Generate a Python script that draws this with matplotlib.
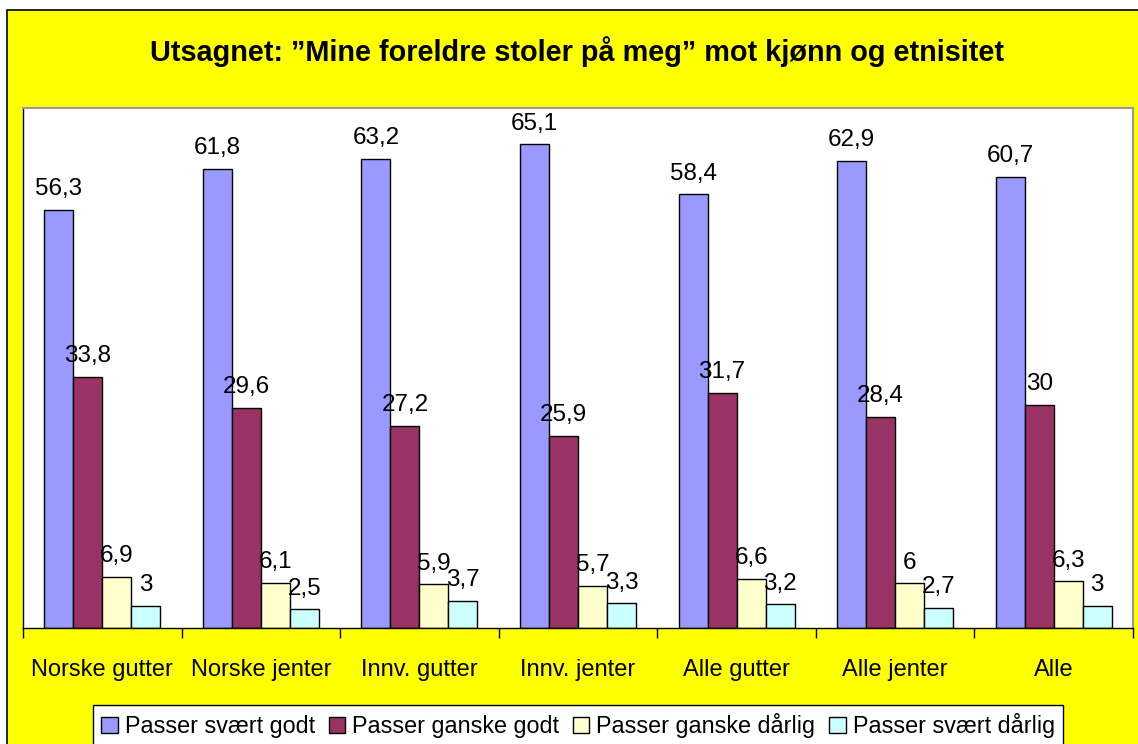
import matplotlib.pyplot as plt
import matplotlib.patches as mpatches
import numpy as np

plt.rcParams['font.family'] = ['Liberation Sans', 'DejaVu Sans']

categories = ['Norske gutter', 'Norske jenter', 'Innv. gutter', 'Innv. jenter',
              'Alle gutter', 'Alle jenter', 'Alle']
series = ['Passer svært godt', 'Passer ganske godt', 'Passer ganske dårlig', 'Passer svært dårlig']
svaert_godt = [56.3, 61.8, 63.2, 65.1, 58.4, 62.9, 60.7]
ganske_godt = [33.8, 29.6, 27.2, 25.9, 31.7, 28.4, 30]
ganske_darlig = [6.9, 6.1, 5.9, 5.7, 6.6, 6, 6.3]
svaert_darlig = [3, 2.5, 3.7, 3.3, 3.2, 2.7, 3]
colors = ['#9999FF', '#993366', '#FFFFCC', '#CCFFFF']

W, H = 1138, 744
fig = plt.figure(figsize=(W / 100, H / 100), dpi=100)
fig.patch.set_facecolor('white')

# yellow chart area with black border
bg = mpatches.Rectangle((7 / W, -0.1), 1.2, (H - 10) / H + 0.1,
                        transform=fig.transFigure, facecolor='#FFFF00',
                        edgecolor='black', linewidth=1.2)
bg.set_zorder(-10)
fig.add_artist(bg)

ax = fig.add_axes([23 / W, (H - 628) / H, 1110 / W, 520 / H])
ax.set_zorder(1)
ax.set_facecolor('white')

x = np.arange(len(categories))
bw = 0.183
data = [svaert_godt, ganske_godt, ganske_darlig, svaert_darlig]
for i, (vals, c, name) in enumerate(zip(data, colors, series)):
    pos = x + (i - 1.5) * bw
    ax.bar(pos, vals, bw, color=c, edgecolor='black', linewidth=1, label=name, zorder=2)
    for p, v in zip(pos, vals):
        txt = ('%g' % v).replace('.', ',')
        ax.text(p, v + 1.3, txt, ha='center', va='bottom', fontsize=17.5, zorder=3)

ax.set_xlim(-0.5, len(categories) - 0.5)
ax.set_ylim(0, 70)
ax.set_yticks([])
ax.set_xticks(x)
ax.set_xticklabels(categories, fontsize=17)
ax.tick_params(axis='x', length=0, pad=22)
ax.set_xticks(np.arange(len(categories) + 1) - 0.5, minor=True)
ax.tick_params(axis='x', which='minor', length=7, width=1, color='black', direction='out')
for s in ['top', 'right']:
    ax.spines[s].set_color('#999999')
    ax.spines[s].set_linewidth(1.5)
for s in ['left', 'bottom']:
    ax.spines[s].set_color('black')
    ax.spines[s].set_linewidth(1)

fig.text(577 / W, (H - 52) / H, 'Utsagnet: \u201dMine foreldre stoler på meg\u201d mot kjønn og etnisitet',
         ha='center', va='center', fontsize=20.8, fontweight='bold')

leg = fig.legend(loc='upper center', bbox_to_anchor=(578 / W, (H - 705) / H), ncol=4,
                 fontsize=16.8, frameon=True, fancybox=False, edgecolor='black',
                 facecolor='white', framealpha=1,
                 handlelength=0.7, handleheight=0.7, handletextpad=0.3, columnspacing=0.6,
                 borderpad=0.35, borderaxespad=0)
leg.get_frame().set_linewidth(1)
leg.set_zorder(5)

fig.savefig('out.png', dpi=100, facecolor=fig.get_facecolor())
